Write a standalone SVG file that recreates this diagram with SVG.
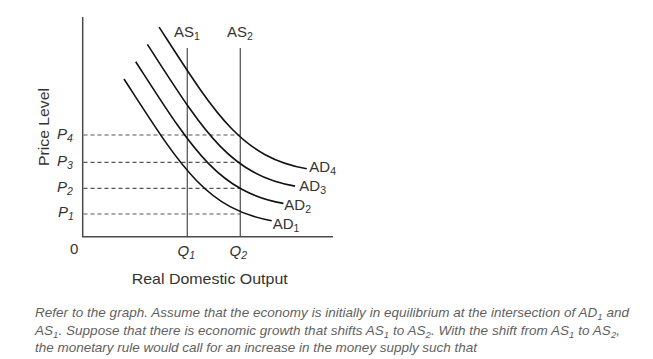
<svg xmlns="http://www.w3.org/2000/svg" width="653" height="359" viewBox="0 0 653 359">
<style>
  .axis{stroke:#4a4a4a;stroke-width:1.5;fill:none}
  .as{stroke:#5a5a5a;stroke-width:1.3;fill:none}
  .dash{stroke:#555;stroke-width:1.2;stroke-dasharray:4 3;fill:none}
  .ad{stroke:#111;stroke-width:1.6;fill:none}
  .lbl{font-family:"Liberation Sans",Arial,sans-serif;font-size:15px;fill:#333}
  .it{font-style:italic}
  .cap{font-family:"Liberation Sans",Arial,sans-serif;font-size:13.5px;font-style:italic;fill:#5f5f5f}
</style>
<rect width="653" height="359" fill="#fff"/>
<g id="axes">
  <path class="axis" d="M82.7,17 V236.7 H333"/>
</g>
<g id="connectors">
  <path class="dash" d="M83.5,135 H240.3"/>
  <path class="dash" d="M83.5,162.3 H240.3"/>
  <path class="dash" d="M83.5,188.3 H240.3"/>
  <path class="dash" d="M83.5,214 H240.3"/>
  <path class="as" d="M187.3,48 V236"/>
  <path class="as" d="M240.3,48 V236"/>
  <path class="ad" d="M124,79 C179,164 205,209 271.7,220.7"/>
  <path class="ad" d="M135.7,61.7 C190.7,146.7 216.7,191.7 283.4,203.4"/>
  <path class="ad" d="M147.4,44.4 C202.4,129.4 228.4,174.4 295.1,186.1"/>
  <path class="ad" d="M159.1,27.1 C214.1,112.1 240.1,157.1 306.8,168.8"/>
</g>
<g id="as1-label"><text class="lbl" x="174" y="37">AS<tspan font-size="10.5" dy="3">1</tspan></text></g>
<g id="as2-label"><text class="lbl" x="227" y="37">AS<tspan font-size="10.5" dy="3">2</tspan></text></g>
<g id="ad4-label"><text class="lbl" x="309.3" y="172">AD<tspan font-size="10.5" dy="3">4</tspan></text></g>
<g id="ad3-label"><text class="lbl" x="299.3" y="191.3">AD<tspan font-size="10.5" dy="3">3</tspan></text></g>
<g id="ad2-label"><text class="lbl" x="284.3" y="209.6">AD<tspan font-size="10.5" dy="3">2</tspan></text></g>
<g id="ad1-label"><text class="lbl" x="272.7" y="228.6">AD<tspan font-size="10.5" dy="3">1</tspan></text></g>
<g id="p-labels">
  <text class="lbl it" x="57" y="139">P<tspan font-size="10.5" dy="3">4</tspan></text>
  <text class="lbl it" x="57" y="165.5">P<tspan font-size="10.5" dy="3">3</tspan></text>
  <text class="lbl it" x="57" y="191.5">P<tspan font-size="10.5" dy="3">2</tspan></text>
  <text class="lbl it" x="58" y="217.3">P<tspan font-size="10.5" dy="3">1</tspan></text>
</g>
<g id="q-labels">
  <text class="lbl it" x="177.5" y="255.5">Q<tspan font-size="10.5" dy="3">1</tspan></text>
  <text class="lbl it" x="229.5" y="255.5">Q<tspan font-size="10.5" dy="3">2</tspan></text>
  <text class="lbl" x="70" y="253.5">0</text>
</g>
<g id="axis-titles">
  <text class="lbl" x="131.7" y="283.5" textLength="156" lengthAdjust="spacingAndGlyphs">Real Domestic Output</text>
  <text class="lbl" transform="translate(48.5,127) rotate(-90)" x="-39" y="0" textLength="78" lengthAdjust="spacingAndGlyphs">Price Level</text>
</g>
<g id="caption">
  <text class="cap" x="35" y="317" textLength="594">Refer to the graph. Assume that the economy is initially in equilibrium at the intersection of AD<tspan font-size="9.5" dy="2.5">1</tspan><tspan dy="-2.5"> and</tspan></text>
  <text class="cap" x="35" y="335" textLength="585">AS<tspan font-size="9.5" dy="2.5">1</tspan><tspan dy="-2.5">. Suppose that there is economic growth that shifts AS</tspan><tspan font-size="9.5" dy="2.5">1</tspan><tspan dy="-2.5"> to AS</tspan><tspan font-size="9.5" dy="2.5">2</tspan><tspan dy="-2.5">. With the shift from AS</tspan><tspan font-size="9.5" dy="2.5">1</tspan><tspan dy="-2.5"> to AS</tspan><tspan font-size="9.5" dy="2.5">2</tspan><tspan dy="-2.5">,</tspan></text>
  <text class="cap" x="35" y="352" textLength="442">the monetary rule would call for an increase in the money supply such that</text>
</g>
</svg>
